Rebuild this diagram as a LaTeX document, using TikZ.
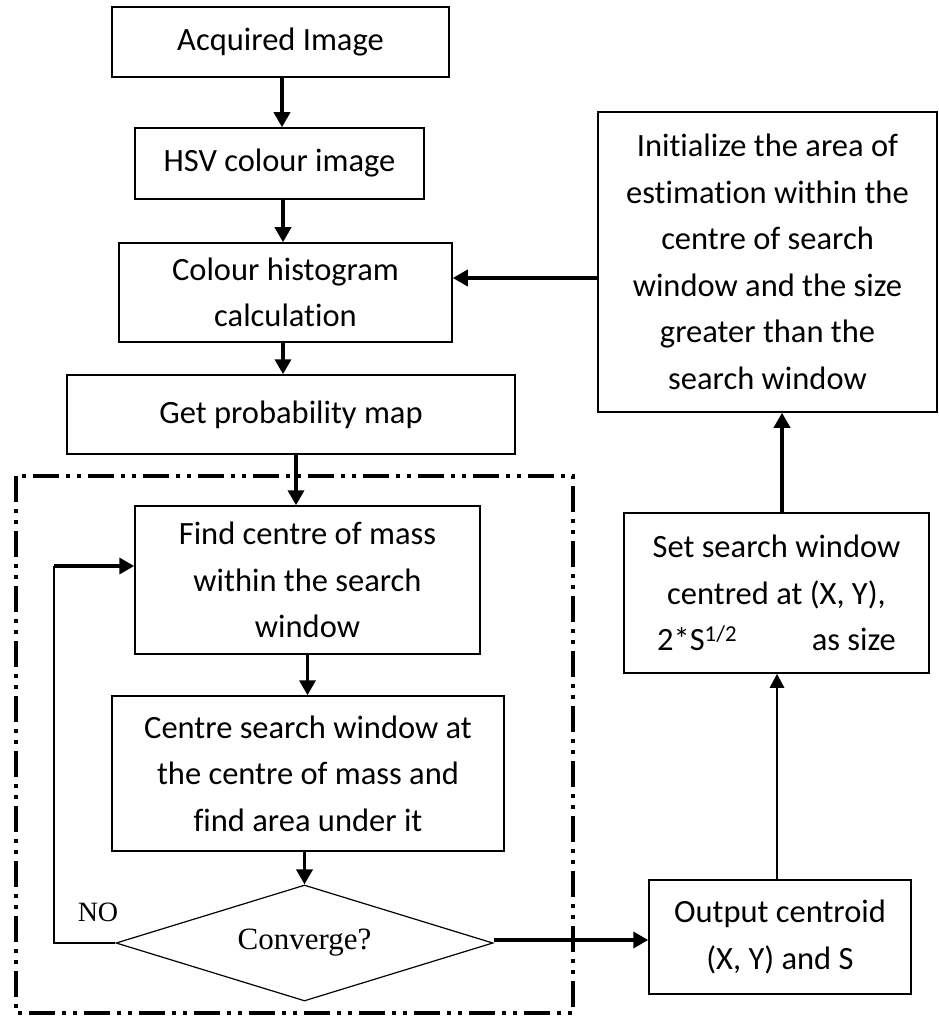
\documentclass[tikz,border=0pt]{standalone}
\usepackage{fontspec}
\setmainfont{Carlito}[Ligatures={NoCommon,NoContextual}]
\newfontfamily\serifface{Liberation Serif}
\usetikzlibrary{arrows.meta,shapes.geometric,calc}
\begin{document}
\begin{tikzpicture}[x=1pt,y=-1pt,
  box/.style={draw,line width=1.5pt,align=center,inner sep=0pt,font=\fontsize{32.5}{46.5}\selectfont},
  arr/.style={line width=3.5pt,-{Triangle[length=15pt,width=16pt]}},
  marr/.style={line width=2.8pt,-{Triangle[length=14pt,width=14pt]}},
  thinline/.style={line width=1.5pt},
  dashdotbox/.style={line width=4pt,dash pattern=on 26pt off 7pt on 4pt off 7pt on 4pt off 7pt}]
\useasboundingbox[fill=white] (0,0) rectangle (938,1016);

\node[box,minimum width=337pt,minimum height=70pt] (acq) at (280.5,42) {Acquired Image};
\node[box,minimum width=289pt,minimum height=71pt] (hsv) at (279.5,163.5) {HSV colour image};
\node[box,minimum width=333pt,minimum height=99pt] (hist) at (285.5,292.5) {Colour histogram\\calculation};
\node[box,minimum width=448pt,minimum height=79pt] (prob) at (291,414.5) {\raisebox{5pt}{Get probability map}};
\node[box,minimum width=345pt,minimum height=148pt] (find) at (307.5,580) {Find centre of mass\\within the search\\window};
\node[box,minimum width=392pt,minimum height=155pt] (cen) at (308,773.5) {Centre search window at\\the centre of mass and\\find area under it};
\node[draw,diamond,line width=1.2pt,minimum width=377pt,minimum height=116pt,inner sep=0pt,aspect=3.25,font=\serifface\fontsize{31}{36}\selectfont] (conv) at (304.5,943) {\raisebox{5pt}{Converge?}};
\node[font=\serifface\fontsize{28}{32}\selectfont,inner sep=0pt] (no) at (98,912) {NO};
\node[box,minimum width=262pt,minimum height=114pt] (out) at (780,937) {Output centroid\\(X, Y) and S};
\node[box,minimum width=305pt,minimum height=160pt] (set) at (776.5,593) {Set search window\\centred at (X, Y),\\2*S\textsuperscript{1/2}\hspace{2.3em}as size};
\node[box,minimum width=339pt,minimum height=300pt] (init) at (767.5,262) {Initialize the area of\\estimation within the\\centre of search\\window and the size\\greater than the\\search window};

\draw[dashdotbox] (16,476) rectangle (573,1013);

\draw[arr] ([xshift=1.5pt]acq.south) -- ([xshift=1.5pt]acq.south |- hsv.north);
\draw[arr] ([xshift=3.5pt]hsv.south) -- ([xshift=3.5pt]hsv.south |- hist.north);
\draw[arr] ([xshift=-2.5pt]hist.south) -- ([xshift=-2.5pt]hist.south |- prob.north);
\draw[arr] ([xshift=5pt]prob.south) -- ([xshift=5pt]prob.south |- find.north);
\draw[arr] (find.south) -- (find.south |- cen.north);
\draw[arr] ([xshift=-3.5pt]cen.south) -- (conv.north);
\draw[arr] ([yshift=3pt]conv.east) -- ([yshift=3pt]conv.east -| out.west);
\draw[marr] ([xshift=-3pt]out.north) -- ([xshift=-3pt]out.north |- set.south);
\draw[arr] ([xshift=5.5pt]set.north) -- ([xshift=5.5pt]set.north |- init.south);
\draw[arr] ([yshift=-16pt]init.west) -- ([yshift=-16pt]init.west -| hist.east);

\coordinate (fb) at (54,566);
\draw[thinline] (conv.west) -| (fb);
\draw[arr] (fb) -- (fb -| find.west);
\end{tikzpicture}
\end{document}
